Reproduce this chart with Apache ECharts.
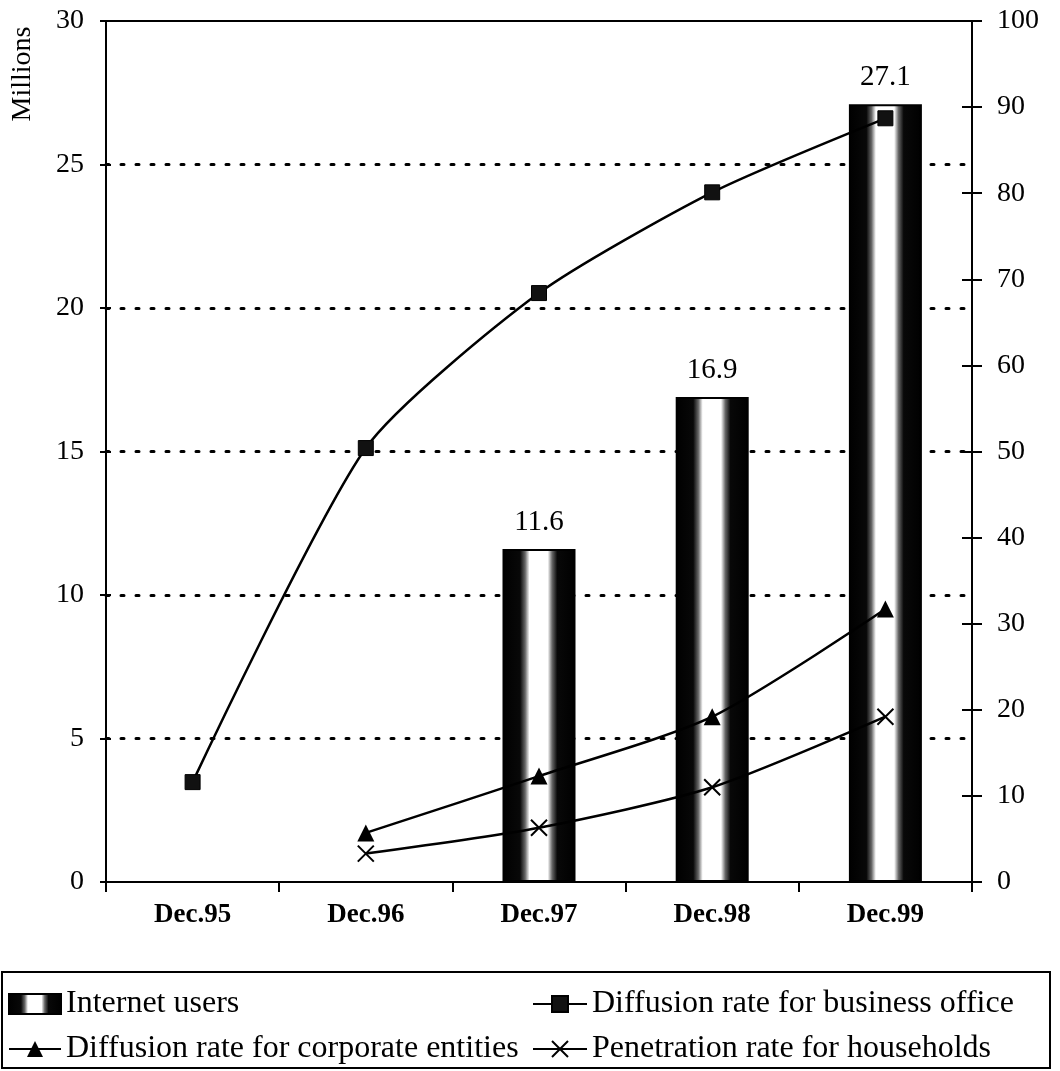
<!DOCTYPE html>
<html>
<head>
<meta charset="utf-8">
<script src="https://cdn.jsdelivr.net/npm/echarts@6/dist/echarts.min.js"></script>
<style>
  html, body { margin: 0; padding: 0; background: #fff; }
  #chart { width: 1060px; height: 1071px; }
</style>
</head>
<body>
<div id="chart"></div>
<script>
// Period labels along the bottom axis
const categories = ['Dec.95', 'Dec.96', 'Dec.97', 'Dec.98', 'Dec.99'];

// Internet users, millions (left axis)
const internetUsers = [null, null, 11.6, 16.9, 27.1];

// Rates, % (right axis)
const businessOffice = [11.6, 50.4, 68.4, 80.1, 88.7];
const corporateEntities = [null, 5.7, 12.3, 19.2, 31.7];
const households = [null, 3.3, 6.3, 11.0, 19.2];

// Axis scales
const leftTicks = { min: 0, max: 30, interval: 5 };
const rightTicks = { min: 0, max: 100, interval: 10 };

const FONT = '"Liberation Serif", "Times New Roman", serif';

// dark edges, light core: a tube-like column fill
const barFill = {
  type: 'linear', x: 0, y: 0, x2: 1, y2: 0,
  colorStops: [
    { offset: 0, color: '#000' },
    { offset: 0.24, color: '#080808' },
    { offset: 0.31, color: '#666' },
    { offset: 0.37, color: '#fff' },
    { offset: 0.62, color: '#fff' },
    { offset: 0.68, color: '#666' },
    { offset: 0.75, color: '#080808' },
    { offset: 1, color: '#000' }
  ]
};

const chart = echarts.init(document.getElementById('chart'));

const tickAxisCommon = {
  type: 'value',
  axisLine: { show: false },
  axisLabel: { show: false },
  splitLine: { show: false }
};

const legendText = { fontFamily: FONT, fontSize: 32, color: '#000', lineHeight: 32 };

chart.setOption({
  animation: false,
  backgroundColor: '#fff',
  grid: { left: 106, right: 88, top: 21, bottom: 189 },
  legend: [
    {
      data: [{ name: 'Internet users', icon: 'rect' }, 'Diffusion rate for corporate entities'],
      orient: 'vertical', left: 8, top: 988, padding: 0, itemGap: 13,
      itemWidth: 52, itemHeight: 20, itemTextGap: 6,
      textStyle: legendText
    },
    {
      data: ['Diffusion rate for business office', 'Penetration rate for households'],
      orient: 'vertical', left: 532, top: 988, padding: 0, itemGap: 13,
      itemWidth: 54, itemHeight: 20, itemTextGap: 4,
      textStyle: legendText
    }
  ],
  xAxis: [
    {
      type: 'category',
      data: categories,
      axisLine: { lineStyle: { color: '#000', width: 2 } },
      axisTick: { show: true, length: 10, lineStyle: { color: '#000', width: 2 } },
      axisLabel: { margin: 20, fontFamily: FONT, fontSize: 27, fontWeight: 'bold', color: '#000' },
      splitLine: { show: false }
    },
    // solid frame line along the top of the plot
    {
      type: 'category', position: 'top',
      data: categories,
      axisLine: { show: true, onZero: false, lineStyle: { color: '#000', width: 2 } },
      axisTick: { show: false },
      axisLabel: { show: false },
      splitLine: { show: false }
    }
  ],
  yAxis: [
    {
      type: 'value', position: 'left',
      min: leftTicks.min, max: leftTicks.max, interval: leftTicks.interval,
      axisLine: { show: true, lineStyle: { color: '#000', width: 2 } },
      axisTick: { show: true, length: 6, lineStyle: { color: '#000', width: 2 } },
      axisLabel: { margin: 22, fontFamily: FONT, fontSize: 28, color: '#000' },
      splitLine: {
        show: true, showMinLine: false, showMaxLine: false,
        lineStyle: { color: '#000', width: 3, type: [3, 12], cap: 'round' }
      }
    },
    {
      type: 'value', position: 'right',
      min: rightTicks.min, max: rightTicks.max, interval: rightTicks.interval,
      axisLine: { show: true, lineStyle: { color: '#000', width: 2 } },
      axisTick: { show: true, length: 10, lineStyle: { color: '#000', width: 2 } },
      axisLabel: { margin: 25, fontFamily: FONT, fontSize: 28, color: '#000' },
      splitLine: { show: false }
    },
    // inner halves of the crossing tick marks
    Object.assign({}, tickAxisCommon, {
      position: 'left', min: leftTicks.min, max: leftTicks.max, interval: leftTicks.interval,
      axisTick: { show: true, inside: true, length: 5, lineStyle: { color: '#000', width: 2 } }
    }),
    Object.assign({}, tickAxisCommon, {
      position: 'right', min: rightTicks.min, max: rightTicks.max, interval: rightTicks.interval,
      axisTick: { show: true, inside: true, length: 10, lineStyle: { color: '#000', width: 2 } }
    })
  ],
  series: [
    {
      name: 'Internet users',
      type: 'bar',
      yAxisIndex: 0,
      data: internetUsers,
      barWidth: 73,
      itemStyle: { color: barFill, borderColor: '#000', borderWidth: 2 },
      label: {
        show: true, position: 'top', distance: 12,
        fontFamily: FONT, fontSize: 29, color: '#000'
      },
      z: 2
    },
    {
      name: 'Diffusion rate for business office',
      type: 'line',
      yAxisIndex: 1,
      data: businessOffice,
      smooth: 0.22,
      symbol: 'rect', symbolSize: 15,
      itemStyle: { color: '#111', borderColor: '#000', borderWidth: 1 },
      lineStyle: { color: '#000', width: 2.5 },
      z: 5
    },
    {
      name: 'Diffusion rate for corporate entities',
      type: 'line',
      yAxisIndex: 1,
      data: corporateEntities,
      smooth: 0.25,
      symbol: 'triangle', symbolSize: 17,
      itemStyle: { color: '#000' },
      lineStyle: { color: '#000', width: 2.5 },
      z: 5
    },
    {
      name: 'Penetration rate for households',
      type: 'line',
      yAxisIndex: 1,
      data: households,
      smooth: 0.25,
      symbol: 'path://M0,0L10,10M10,0L0,10', symbolSize: 16,
      itemStyle: { color: '#000', borderColor: '#000', borderWidth: 2 },
      lineStyle: { color: '#000', width: 2.5 },
      z: 5
    }
  ],
  graphic: [
    {
      type: 'text',
      x: 23, y: 74, rotation: Math.PI / 2,
      style: {
        text: 'Millions', fontFamily: FONT, fontSize: 28, fill: '#000',
        align: 'center', verticalAlign: 'middle'
      }
    },
    {
      type: 'rect',
      shape: { x: 2, y: 972, width: 1048, height: 96 },
      style: { fill: 'none', stroke: '#000', lineWidth: 2 },
      z: -1
    }
  ]
});
</script>
</body>
</html>
